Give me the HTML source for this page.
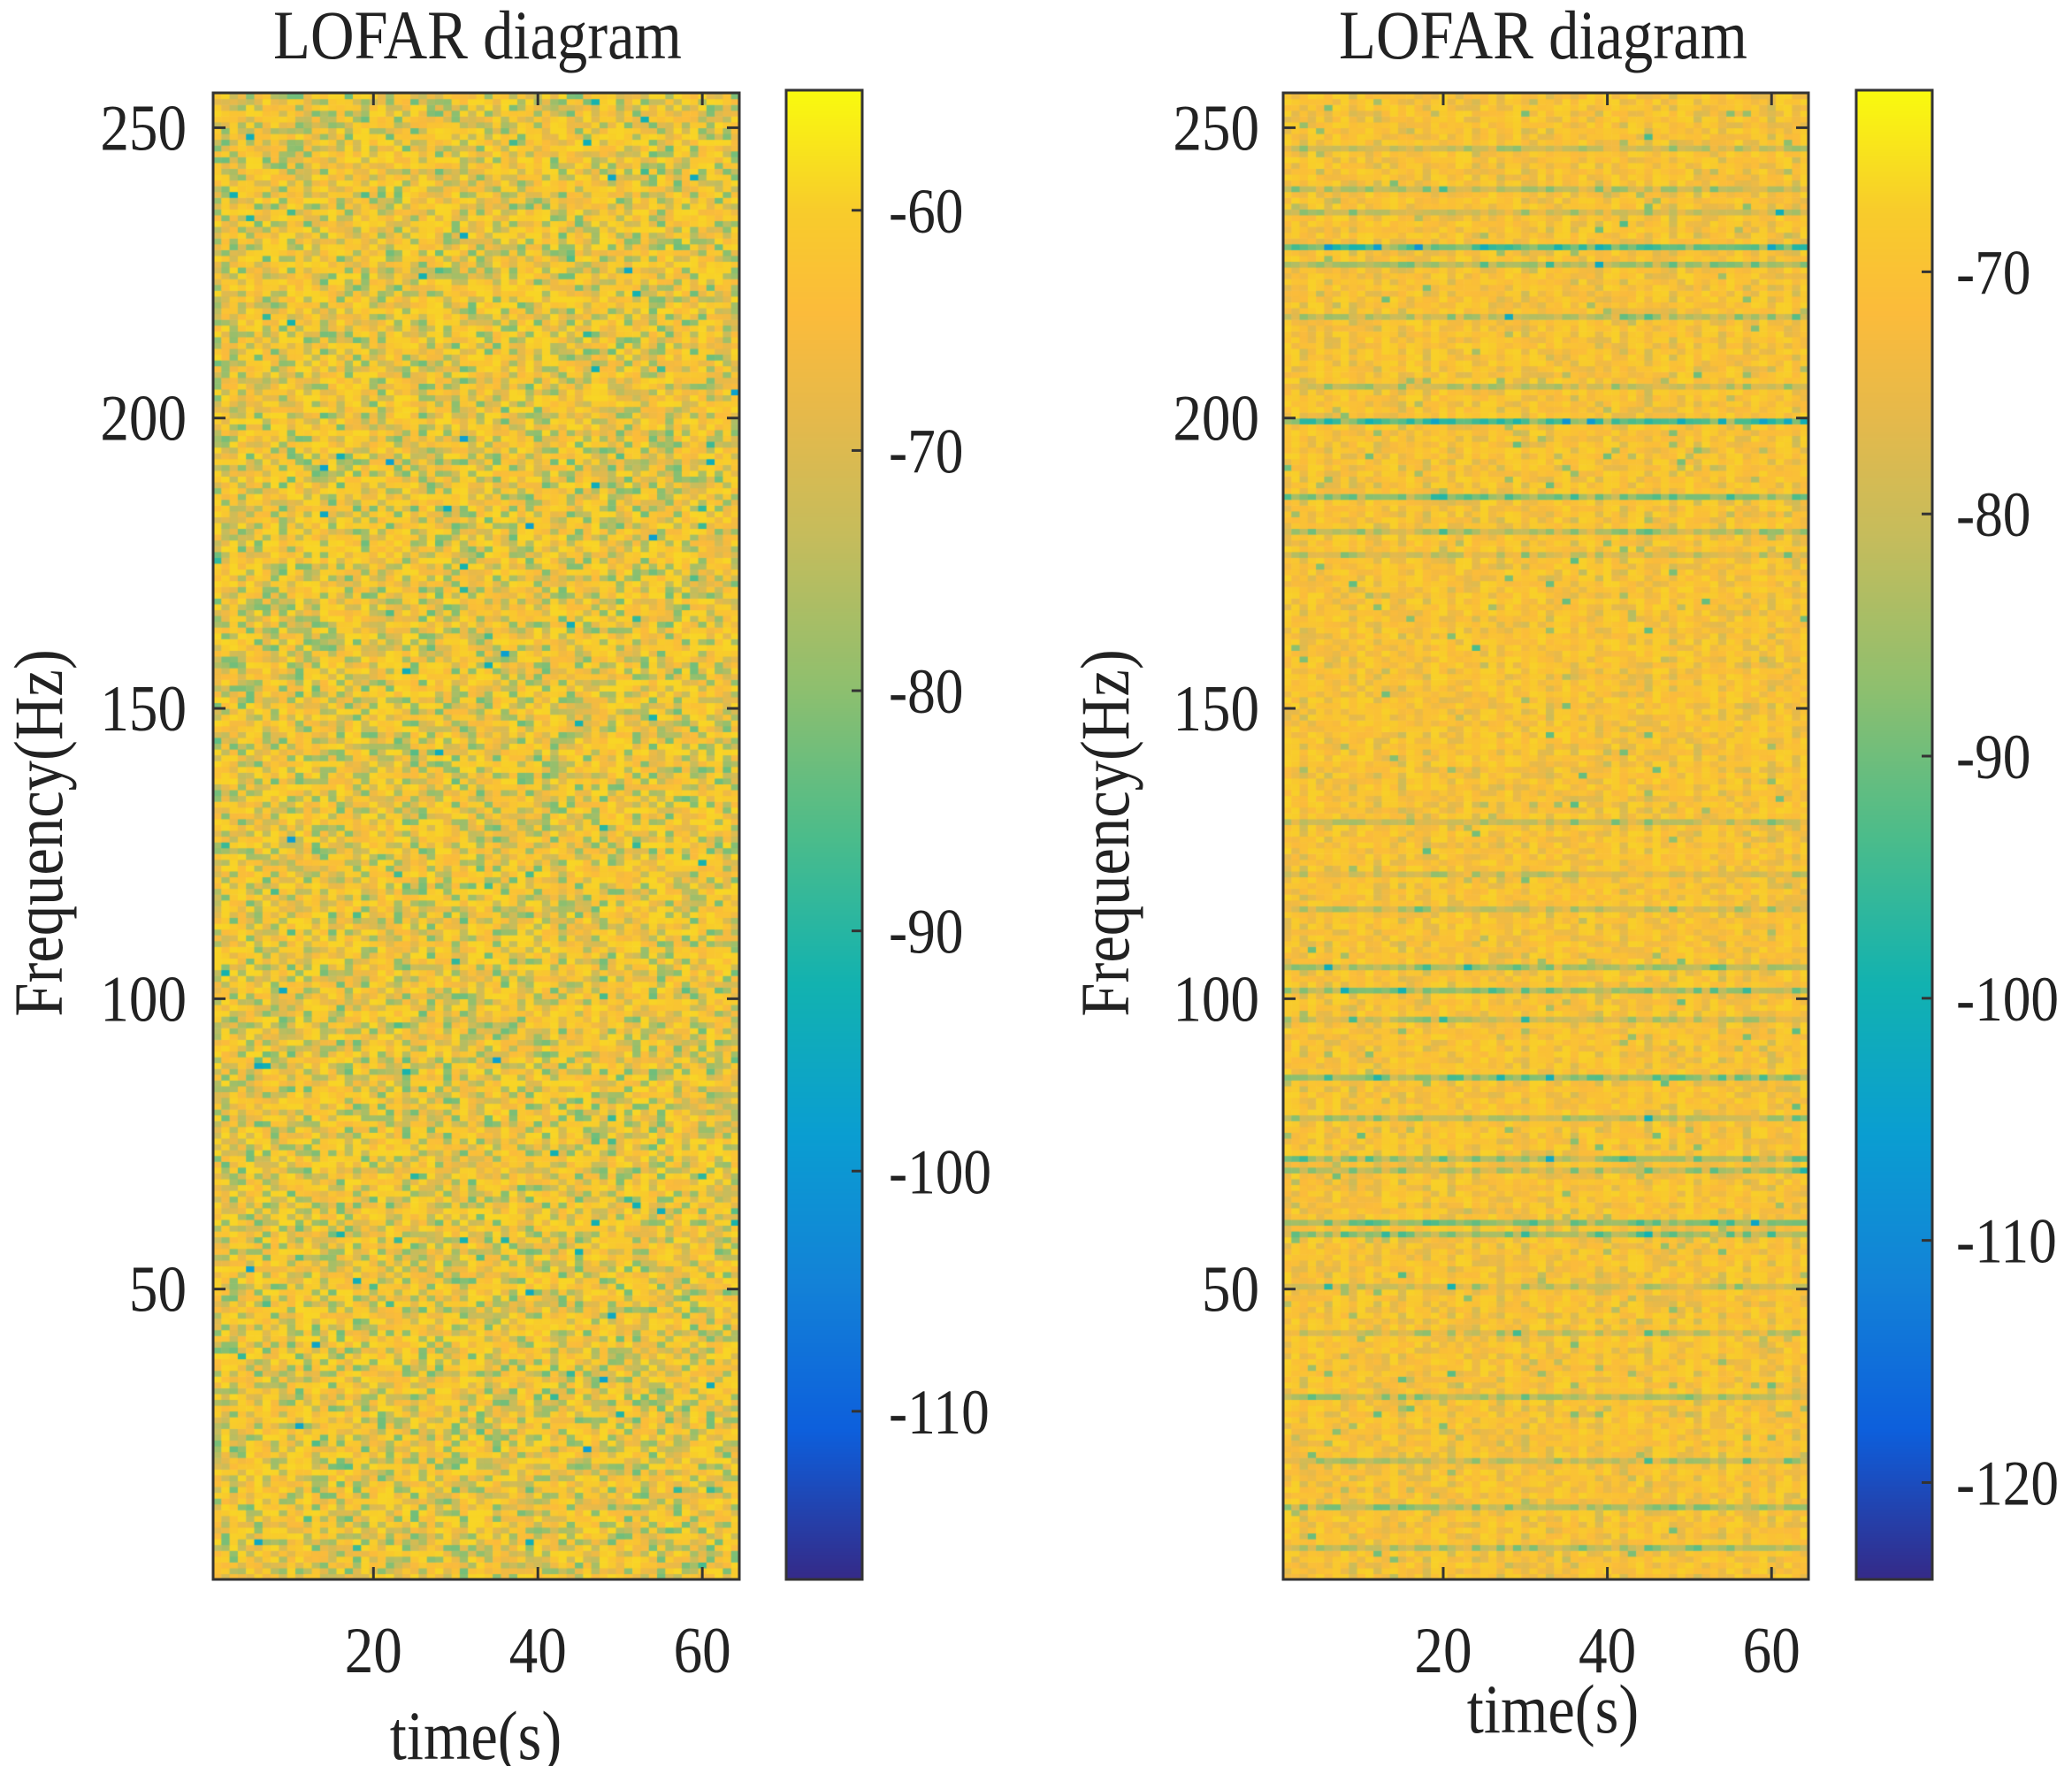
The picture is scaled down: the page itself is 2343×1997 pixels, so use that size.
<!DOCTYPE html>
<html><head><meta charset="utf-8">
<style>
html,body{margin:0;padding:0;background:#fff;}
#wrap{position:relative;width:2343px;height:1997px;overflow:hidden;background:#fff;}
canvas,svg{position:absolute;left:0;top:0;}
text{font-family:"Liberation Serif",serif;fill:#222;}
</style></head>
<body>
<div id="wrap">
<canvas id="cv" width="2343" height="1997"></canvas>
<svg id="sv" width="2343" height="1997"></svg>
</div>
<script>
// ---- data ----
const timeBins = 64;
const freqBins = 256;
const xTicks = [20, 40, 60];
const yTicks = [50, 100, 150, 200, 250];
const leftCbTicks = [-60, -70, -80, -90, -100, -110];
const rightCbTicks = [-70, -80, -90, -100, -110, -120];
const leftRange = [-117, -55];
const rightRange = [-124, -62.5];
const leftBaseLevel = -63;
const rightBaseLevel = -70;
// right plot: frequency rows with line-spectrum (teal) features and their depth in dB
const lineFreqs =  [247, 240, 236, 230, 227, 218, 206, 200, 187, 181, 177, 131, 122, 116, 106, 102, 97, 87, 80, 73, 71, 62, 60, 51, 43, 32, 21, 13, 6];
const lineDepths = [12,  14,  12,  28,  18,  15,  12,  28,  22,  15,  10,  12,  10,  12,  18,  20,  12, 22, 15, 18, 15, 22, 18, 10, 10, 15, 15, 18, 15];

// ---- layout ----
const panels = [
 {name:'left', ax:[241,105,836,1786], cb:[889,102,975,1786], range:leftRange, base:leftBaseLevel, cbTicks:leftCbTicks, cbLabelX:1005, title:540, xl:[538,1989], yl:45, ytx:211, seed:1},
 {name:'right', ax:[1451,105,2045,1786], cb:[2099,102,2185,1786], range:rightRange, base:rightBaseLevel, cbTicks:rightCbTicks, cbLabelX:2212, title:1745, xl:[1756,1959], yl:1251, ytx:1424, seed:7}
];
const stops=[[0,'#352a87'],[0.1,'#0d5fdc'],[0.2,'#1382d7'],[0.3,'#0a9ed1'],[0.4,'#12b2b0'],[0.5,'#4cbc8a'],[0.6,'#8fbf6e'],[0.7,'#c5bc5c'],[0.78,'#e5b94b'],[0.85,'#fbbb3b'],[0.92,'#f8cc2b'],[1,'#f9fb0e']];
function hex(c){return [parseInt(c.substr(1,2),16),parseInt(c.substr(3,2),16),parseInt(c.substr(5,2),16)];}
function parula(t){t=Math.max(0,Math.min(1,t));for(let i=1;i<stops.length;i++){if(t<=stops[i][0]){const a=hex(stops[i-1][1]),b=hex(stops[i][1]);const f=(t-stops[i-1][0])/(stops[i][0]-stops[i-1][0]);return 'rgb('+a.map((v,k)=>Math.round(v+(b[k]-v)*f)).join(',')+')';}}return stops[stops.length-1][1];}
function hash(i,j,s){let h=(i*374761393+j*668265263+s*2147483647)|0;h=(h^(h>>>13))*1274126177|0;h=h^(h>>>16);return ((h>>>0)%100000)/100000;}
function xs(p,t){const [x0,,x1]=p.ax;return x0+(t-0.5)/timeBins*(x1-x0);}
function ys(p,f){const [,y0,,y1]=p.ax;return y1-(f-0.5)/freqBins*(y1-y0);}
function cs(p,v){const [,y0,,y1]=p.cb;return y1-(v-p.range[0])/(p.range[1]-p.range[0])*(y1-y0);}

const ctx=document.getElementById('cv').getContext('2d');
const sv=document.getElementById('sv');
const NS='http://www.w3.org/2000/svg';
function mk(tag,attrs,txt){const e=document.createElementNS(NS,tag);for(const k in attrs)e.setAttribute(k,attrs[k]);if(txt!==undefined)e.textContent=txt;sv.appendChild(e);return e;}
function txt(x,y,size,anchor,s,rot){return mk('text',{x:0,y:0,"font-size":size,"text-anchor":anchor,transform:'translate('+x+','+y+')'+(rot?' rotate(-90)':'')+' scale(0.88,1)'},s);}

panels.forEach(p=>{
  for(let f=1;f<=freqBins;f++){
    let depth=0;
    lineFreqs.forEach((lf,k)=>{if(p.name==='right'&&Math.abs(lf-f)<0.6)depth=lineDepths[k];});
    for(let t=1;t<=timeBins;t++){
      const h=hash(t,f,p.seed);
      let v;
      if(p.name==='left'){v=p.base+4-24*Math.pow(h,2.0);if(hash(f,t,3)>0.98)v-=16;}
      else{
        const colDip=(t%3===0)?3:0;
        v=p.base+3-10*Math.pow(h,2.2)-colDip-depth*(0.5+0.5*hash(f,t,5));
        if(hash(f,t,9)>0.98)v-=14;}
      ctx.fillStyle=parula((v-p.range[0])/(p.range[1]-p.range[0]));
      const xa=xs(p,t-0.5),xb=xs(p,t+0.5),ya=ys(p,f+0.5),yb=ys(p,f-0.5);
      ctx.fillRect(xa,ya,xb-xa+0.6,yb-ya+0.6);
    }
  }
  const [cx0,cy0,cx1,cy1]=p.cb;
  for(let y=cy0;y<cy1;y++){ctx.fillStyle=parula((cy1-y)/(cy1-cy0));ctx.fillRect(cx0,y,cx1-cx0,1.2);}
  const [x0,y0,x1,y1]=p.ax;
  let e;
  e=mk('rect',{x:x0,y:y0,width:x1-x0,height:y1-y0,fill:'none',stroke:'#333',"stroke-width":3});
  
  e=mk('rect',{x:cx0,y:cy0,width:cx1-cx0,height:cy1-cy0,fill:'none',stroke:'#333',"stroke-width":3});
  
  e=txt(p.title,66,78,'middle','LOFAR diagram');
  
  xTicks.forEach(t=>{const x=xs(p,t);
    mk('line',{x1:x,x2:x,y1:y1,y2:y1-14,stroke:'#333',"stroke-width":3});
    mk('line',{x1:x,x2:x,y1:y0,y2:y0+14,stroke:'#333',"stroke-width":3});
    e=txt(x,1891,74,'middle',String(t));
    });
  yTicks.forEach(f=>{const y=ys(p,f+0.5);
    mk('line',{x1:x0,x2:x0+14,y1:y,y2:y,stroke:'#333',"stroke-width":3});
    mk('line',{x1:x1,x2:x1-14,y1:y,y2:y,stroke:'#333',"stroke-width":3});
    e=txt(p.ytx,y+25,74,'end',String(f));
    });
  p.cbTicks.forEach(v=>{const y=cs(p,v);
    mk('line',{x1:cx1,x2:cx1-12,y1:y,y2:y,stroke:'#333',"stroke-width":3});
    e=txt(p.cbLabelX,y+25,72,'start',String(v));
    });
  e=txt(p.xl[0],p.xl[1],78,'middle','time(s)');
  
  e=txt(p.yl+25,942,78,'middle','Frequency(Hz)',true);
  
});
</script>
</body></html>
